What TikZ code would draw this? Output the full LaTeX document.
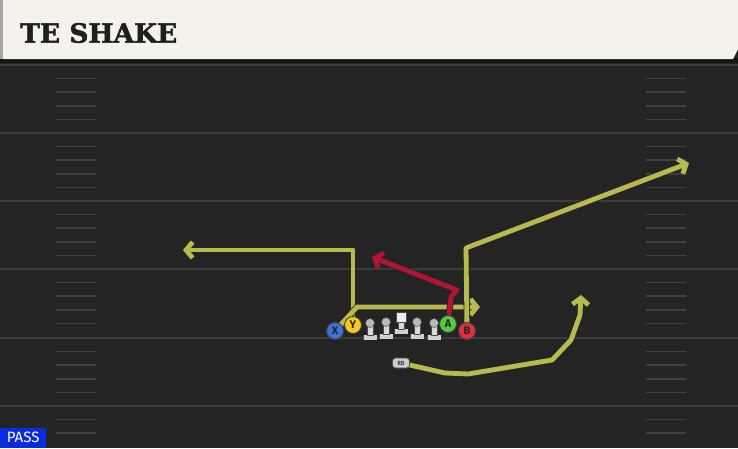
\documentclass[tikz,border=0pt]{standalone}
\usepackage{fontspec}
\newfontfamily\titlefont[FakeBold=1.6]{DejaVu Serif Bold}
\newfontfamily\tagfont{Fira Sans}
\usetikzlibrary{arrows.meta}

\pgfdeclarelayer{field}
\pgfdeclarelayer{routes}
\pgfsetlayers{field,routes,main}

\definecolor{fieldgray}{RGB}{36,36,36}
\definecolor{yardgray}{RGB}{60,60,60}
\definecolor{hashgray}{RGB}{64,64,64}
\definecolor{barcream}{RGB}{245,242,235}
\definecolor{routeyellow}{RGB}{184,186,78}
\definecolor{routered}{RGB}{176,22,52}
\definecolor{xblue}{RGB}{62,112,222}
\definecolor{yyellow}{RGB}{246,200,32}
\definecolor{agreen}{RGB}{84,206,62}
\definecolor{bred}{RGB}{226,46,62}
\definecolor{passblue}{RGB}{10,44,222}

\tikzset{
    player/.style={circle, draw=black!75, line width=0.9pt, minimum size=17pt,
        inner sep=0pt, font=\tagfont\bfseries\fontsize{11}{11}\selectfont, text=black!85},
    route/.style={line width=4.8pt, draw=routeyellow, line join=round,
        preaction={draw=black!85, line width=6.4pt}},
    lineman/.pic={
        \fill[black!70] (-7,17) rectangle (7,11.5);
        \fill[gray!35] (-6.5,16.5) rectangle (6.5,12);
        \fill[gray!30, draw=black!70, line width=0.5pt] (-2.8,12.5) rectangle (2.8,1);
        \fill[gray!55, draw=black!70, line width=0.5pt] (0,0) circle (4.5);
    }
}

\begin{document}
\begin{tikzpicture}[x=1pt, y=-1pt, >={Straight Barb[length=6.5pt, width=16pt]}]

        % Field and its frame.
        \useasboundingbox (0,0) rectangle (738,448);
        \begin{pgfonlayer}{field}
        \fill[fieldgray] (0,0) rectangle (738,448);

        % Yard lines with the hash marks on both sides.
        \foreach \yy in {65,133,201,269,338,406} {
            \draw[yardgray, line width=2pt] (0,\yy) -- (738,\yy);
            \foreach \k in {1,...,4} {
                \pgfmathsetmacro{\hy}{\yy+13.6*\k}
                \ifdim\hy pt<444pt
                    \draw[hashgray, line width=1.6pt] (56,\hy) -- (96,\hy);
                    \draw[hashgray, line width=1.6pt] (646,\hy) -- (686,\hy);
                \fi
            }
        }
        \end{pgfonlayer}

        % Title bar on top.
        \fill[black!92] (0,58) rectangle (738,63);
        \fill[barcream] (3,0) -- (738,0) -- (738,49) -- (733,59) -- (3,59) -- cycle;
        \fill[gray!70] (0,0) rectangle (3,59);
        \node[anchor=west, font=\titlefont\fontsize{26.5}{26.5}\selectfont,
            text=black!88, inner sep=0pt] (title) at (20,33) {TE SHAKE};

        % Play type in the corner.
        \node[anchor=south west, fill=passblue, text=white, inner xsep=2pt,
            inner ysep=2pt, minimum width=46pt, minimum height=20pt,
            font=\tagfont\fontsize{15}{15}\selectfont] (pass) at (0,448) {PASS};

        % The players.
        \node[player, fill=xblue] (X) at (335,331) {X};
        \node[player, fill=yyellow] (Y) at (353,325) {Y};
        \node[player, fill=agreen] (A) at (448,324) {A};
        \node[player, fill=bred] (B) at (467,331) {B};
        \node[draw=black!70, fill=gray!40, rounded corners=3pt, line width=0.7pt,
            minimum width=17pt, minimum height=10pt, inner sep=0pt,
            font=\tagfont\fontsize{6}{6}\selectfont] (RB) at (401,363) {RB};

        % Offensive line.
        \pic at (370,323) {lineman};
        \pic at (386,322) {lineman};
        \pic at (417,322) {lineman};
        \pic at (434,323) {lineman};
        \fill[black!70] (394,334) rectangle (408,328.5);
        \fill[gray!35] (394.5,333.5) rectangle (407.5,329);
        \fill[gray!30, draw=black!70, line width=0.5pt] (398.2,329.5) rectangle (403.8,320);
        \fill[white!85!gray, draw=black!70, line width=0.5pt] (396,312.5) rectangle (406,322.5);

        % End points of the routes.
        \coordinate (xend) at (480,307);
        \coordinate (yend) at (183,250);
        \coordinate (aend) at (372,257);
        \coordinate (bend) at (689,163);
        \coordinate (rbend) at (581,295);

        % Routes, under the players.
        \begin{pgfonlayer}{routes}
        \draw[route, ->] (Y.center) -- (353,250) -- (yend);
        \draw[route, ->] (X.center) -- (357,307) -- (xend);
        \draw[route, ->] (B.center) -- (466,248) -- (bend);
        \draw[route, draw=routered, ->] (A.center) -- (451,297) -- (457,290) -- (aend);
        \draw[route, ->] (RB.center) -- (445,373) -- (468,374) -- (552,360)
            -- (571,340) -- (580,315) -- (rbend);
        \end{pgfonlayer}
    \end{tikzpicture}
\end{document}
